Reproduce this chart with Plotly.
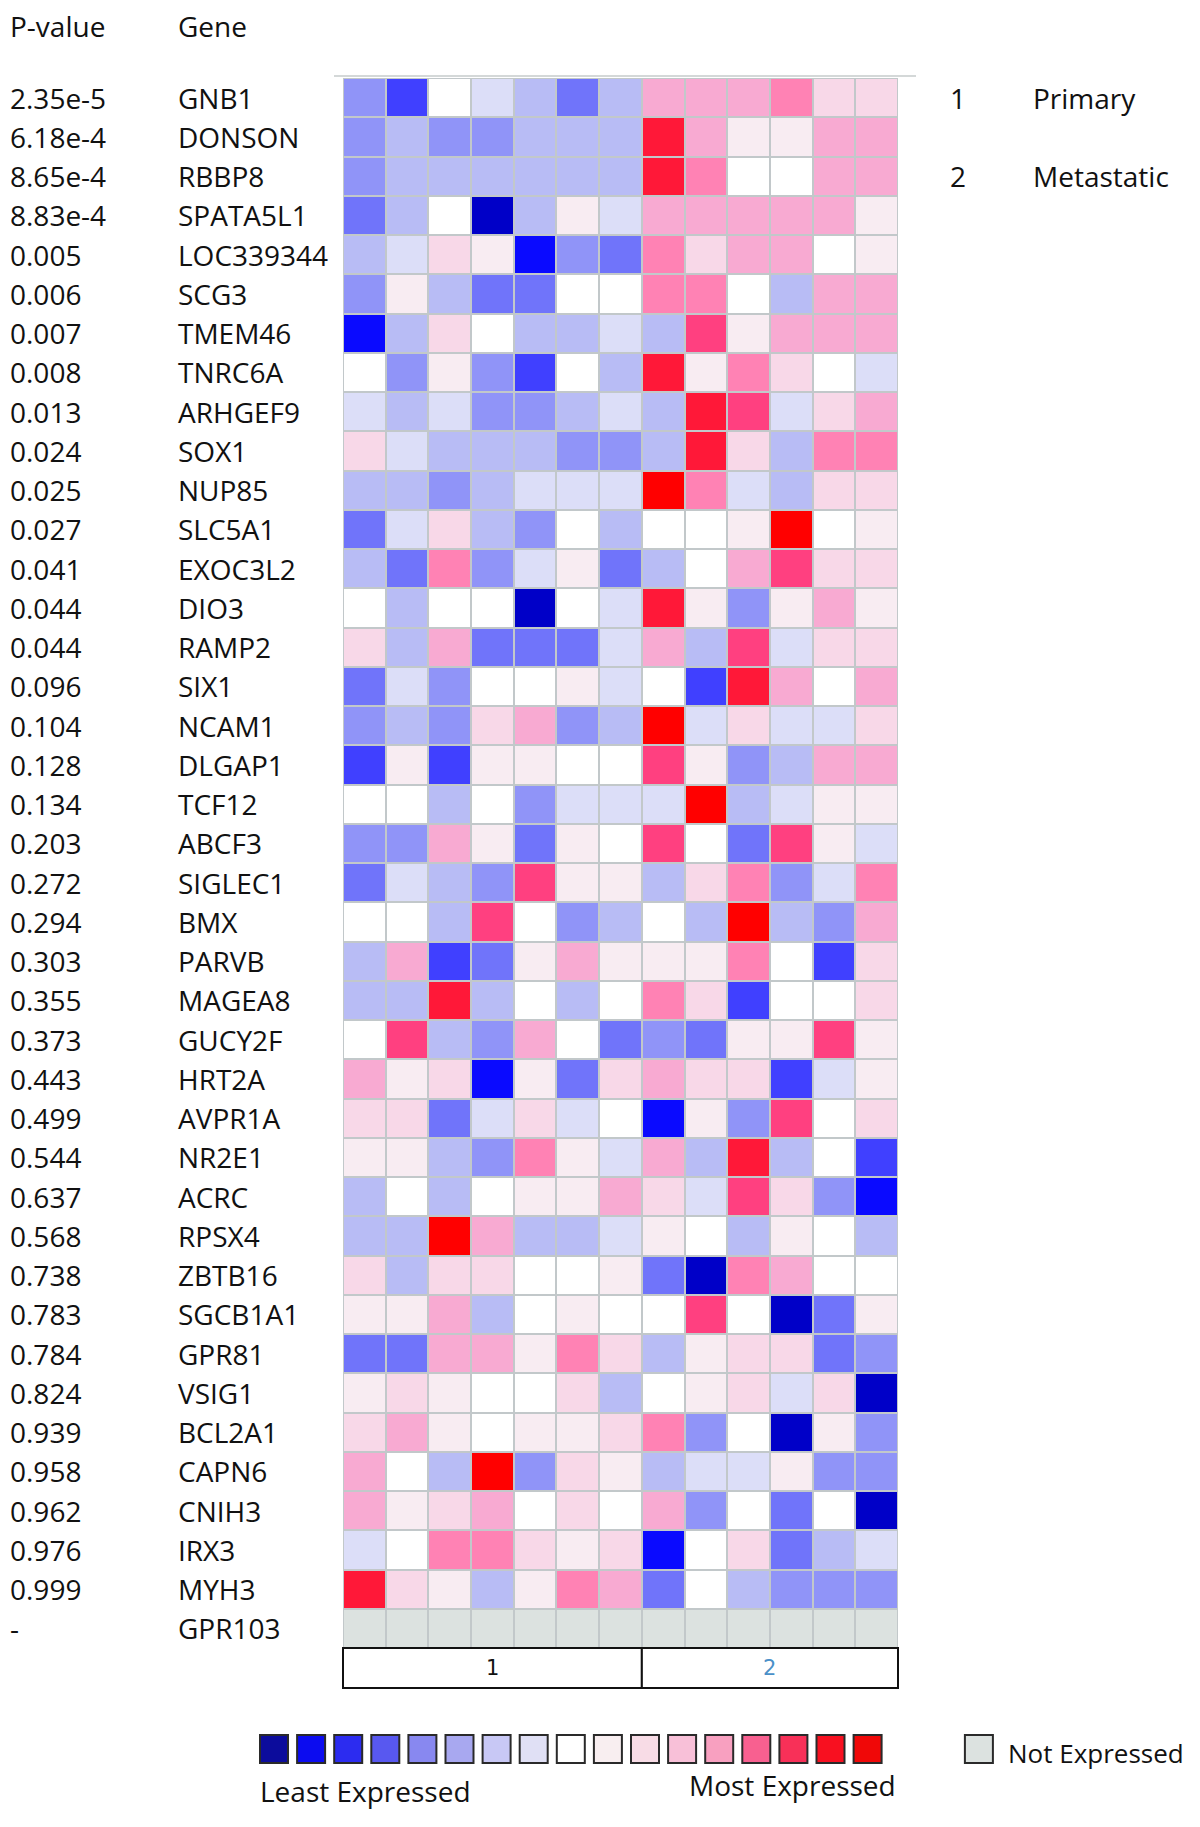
import plotly.graph_objects as go

W, H = 1200, 1827

# ---------------- data ----------------
p_values = ["2.35e-5", "6.18e-4", "8.65e-4", "8.83e-4", "0.005", "0.006", "0.007", "0.008",
            "0.013", "0.024", "0.025", "0.027", "0.041", "0.044", "0.044", "0.096", "0.104",
            "0.128", "0.134", "0.203", "0.272", "0.294", "0.303", "0.355", "0.373", "0.443",
            "0.499", "0.544", "0.637", "0.568", "0.738", "0.783", "0.784", "0.824", "0.939",
            "0.958", "0.962", "0.976", "0.999", "-"]
genes = ["GNB1", "DONSON", "RBBP8", "SPATA5L1", "LOC339344", "SCG3", "TMEM46", "TNRC6A",
         "ARHGEF9", "SOX1", "NUP85", "SLC5A1", "EXOC3L2", "DIO3", "RAMP2", "SIX1", "NCAM1",
         "DLGAP1", "TCF12", "ABCF3", "SIGLEC1", "BMX", "PARVB", "MAGEA8", "GUCY2F", "HRT2A",
         "AVPR1A", "NR2E1", "ACRC", "RPSX4", "ZBTB16", "SGCB1A1", "GPR81", "VSIG1", "BCL2A1",
         "CAPN6", "CNIH3", "IRX3", "MYH3", "GPR103"]
sample_groups = ["1"] * 7 + ["2"] * 6
group_names = {"1": "Primary", "2": "Metastatic"}

# expression level per gene (rows) and sample (columns), -8 (least) .. 8 (most); None = not expressed
levels = [
    [-4, -6, 0, -2, -3, -5, -3, 3, 3, 3, 4, 2, 2],
    [-4, -3, -4, -4, -3, -3, -3, 6, 3, 1, 1, 3, 3],
    [-4, -3, -3, -3, -3, -3, -3, 6, 4, 0, 0, 3, 3],
    [-5, -3, 0, -8, -3, 1, -2, 3, 3, 3, 3, 3, 1],
    [-3, -2, 2, 1, -7, -4, -5, 4, 2, 3, 3, 0, 1],
    [-4, 1, -3, -5, -5, 0, 0, 4, 4, 0, -3, 3, 3],
    [-7, -3, 2, 0, -3, -3, -2, -3, 5, 1, 3, 3, 3],
    [0, -4, 1, -4, -6, 0, -3, 6, 1, 4, 2, 0, -2],
    [-2, -3, -2, -4, -4, -3, -2, -3, 6, 5, -2, 2, 3],
    [2, -2, -3, -3, -3, -4, -4, -3, 6, 2, -3, 4, 4],
    [-3, -3, -4, -3, -2, -2, -2, 7, 4, -2, -3, 2, 2],
    [-5, -2, 2, -3, -4, 0, -3, 0, 0, 1, 7, 0, 1],
    [-3, -5, 4, -4, -2, 1, -5, -3, 0, 3, 5, 2, 2],
    [0, -3, 0, 0, -8, 0, -2, 6, 1, -4, 1, 3, 1],
    [2, -3, 3, -5, -5, -5, -2, 3, -3, 5, -2, 2, 2],
    [-5, -2, -4, 0, 0, 1, -2, 0, -6, 6, 3, 0, 3],
    [-4, -3, -4, 2, 3, -4, -3, 7, -2, 2, -2, -2, 2],
    [-6, 1, -6, 1, 1, 0, 0, 5, 1, -4, -3, 3, 3],
    [0, 0, -3, 0, -4, -2, -2, -2, 7, -3, -2, 1, 1],
    [-4, -4, 3, 1, -5, 1, 0, 5, 0, -5, 5, 1, -2],
    [-5, -2, -3, -4, 5, 1, 1, -3, 2, 4, -4, -2, 4],
    [0, 0, -3, 5, 0, -4, -3, 0, -3, 7, -3, -4, 3],
    [-3, 3, -6, -5, 1, 3, 1, 1, 1, 4, 0, -6, 2],
    [-3, -3, 6, -3, 0, -3, 0, 4, 2, -6, 0, 0, 2],
    [0, 5, -3, -4, 3, 0, -5, -4, -5, 1, 1, 5, 1],
    [3, 1, 2, -7, 1, -5, 2, 3, 2, 2, -6, -2, 1],
    [2, 2, -5, -2, 2, -2, 0, -7, 1, -4, 5, 0, 2],
    [1, 1, -3, -4, 4, 1, -2, 3, -3, 6, -3, 0, -6],
    [-3, 0, -3, 0, 1, 1, 3, 2, -2, 5, 2, -4, -7],
    [-3, -3, 7, 3, -3, -3, -2, 1, 0, -3, 1, 0, -3],
    [2, -3, 2, 2, 0, 0, 1, -5, -8, 4, 3, 0, 0],
    [1, 1, 3, -3, 0, 1, 0, 0, 5, 0, -8, -5, 1],
    [-5, -5, 3, 3, 1, 4, 2, -3, 1, 2, 2, -5, -4],
    [1, 2, 1, 0, 0, 2, -3, 0, 1, 2, -2, 2, -8],
    [2, 3, 1, 0, 1, 1, 2, 4, -4, 0, -8, 1, -4],
    [3, 0, -3, 7, -4, 2, 1, -3, -2, -2, 1, -4, -4],
    [3, 1, 2, 3, 0, 2, 0, 3, -4, 0, -5, 0, -8],
    [-2, 0, 4, 4, 2, 1, 2, -7, 0, 2, -5, -3, -2],
    [6, 2, 1, -3, 1, 4, 3, -5, 0, -3, -4, -4, -4],
    [None] * 13,
]

level_values = list(range(-8, 9))
cell_colors = ["#0000c8", "#0a0aff", "#4040ff", "#7074fa", "#9094f8", "#b8bcf5", "#dcdef8", "#eceef8",
               "#ffffff",
               "#f8ecf2", "#f8d8e8", "#f8aad2", "#ff82b4", "#ff4080", "#ff1838", "#ff0000", "#f00000"]
legend_colors = ["#0c0c9c", "#0c0cf0", "#2c2cf0", "#5858f0", "#8888f0", "#a8a8f0", "#c8c8f5", "#e0e0f5",
                 "#ffffff",
                 "#f8eef0", "#f8dce6", "#f8c0d8", "#f8a0c0", "#f86090", "#f83058", "#f81020", "#f00808"]
not_expressed_color = "#dce2e0"

# ---------------- helpers ----------------
def px(x):
    return x / W

def py(y):
    return 1 - y / H

FONT = "Open Sans"
n_rows, n_cols = len(genes), len(sample_groups)

HM_X0, HM_X1 = 335, 890
HM_Y0, HM_Y1 = 70, 1640
BAR_Y1 = 1680

# discrete colorscale
n_lv = len(level_values)
colorscale = []
for k, c in enumerate(cell_colors):
    colorscale.append([k / n_lv, c])
    colorscale.append([(k + 1) / n_lv, c])

fig = go.Figure()

fig.add_trace(go.Heatmap(
    z=levels, x=list(range(n_cols)), y=list(range(n_rows)),
    colorscale=colorscale, zmin=level_values[0] - 0.5, zmax=level_values[-1] + 0.5,
    showscale=False, xgap=2, ygap=2, hoverongaps=False,
))
ne_z = [[1 if v is None else None for v in row] for row in levels]
fig.add_trace(go.Heatmap(
    z=ne_z, x=list(range(n_cols)), y=list(range(n_rows)),
    colorscale=[[0, not_expressed_color], [1, not_expressed_color]],
    showscale=False, xgap=2, ygap=2, hoverongaps=False,
))

# legend boxes
LEG_X0, LEG_STEP = 266, 37.1
fig.add_trace(go.Scatter(
    x=list(range(n_lv)), y=[0] * n_lv, mode="markers", xaxis="x2", yaxis="y2",
    marker=dict(symbol="square", size=28, color=legend_colors,
                line=dict(color="#2a2a2a", width=2)),
    showlegend=False, hoverinfo="skip",
))
NOT_EXPR_POS = 19
fig.add_trace(go.Scatter(
    x=[NOT_EXPR_POS], y=[0], mode="markers", xaxis="x2", yaxis="y2",
    marker=dict(symbol="square", size=28, color=not_expressed_color,
                line=dict(color="#2a2a2a", width=2)),
    showlegend=False, hoverinfo="skip",
))

annotations = []
txt = dict(family=FONT, size=28, color="#111111")
annotations.append(dict(text="P-value", x=px(0), y=py(18), xref="paper", yref="paper",
                        xanchor="left", yanchor="middle", showarrow=False, font=txt))
annotations.append(dict(text="Gene", x=px(168), y=py(18), xref="paper", yref="paper",
                        xanchor="left", yanchor="middle", showarrow=False, font=txt))
for i, (p, g) in enumerate(zip(p_values, genes)):
    annotations.append(dict(text=p, x=px(0), y=i, xref="paper", yref="y",
                            xanchor="left", yanchor="middle", showarrow=False, font=txt))
    annotations.append(dict(text=g, x=px(168), y=i, xref="paper", yref="y",
                            xanchor="left", yanchor="middle", showarrow=False, font=txt))

# group key on the right
for j, (key, name) in enumerate(group_names.items()):
    annotations.append(dict(text=key, x=px(940), y=2 * j, xref="paper", yref="y",
                            xanchor="left", yanchor="middle", showarrow=False, font=txt))
    annotations.append(dict(text=name, x=px(1023), y=2 * j, xref="paper", yref="y",
                            xanchor="left", yanchor="middle", showarrow=False, font=txt))

# group bar below heatmap
shapes = []
shapes.append(dict(type="rect", xref="paper", yref="paper", x0=px(HM_X0), x1=px(HM_X1),
                   y0=py(HM_Y1), y1=py(HM_Y0), fillcolor="#c2c8ca", line=dict(width=0),
                   layer="below"))
cell_w = (HM_X1 - HM_X0) / n_cols
group_label_colors = {"1": "#111111", "2": "#4a90c8"}
start = 0
for j in range(1, n_cols + 1):
    if j == n_cols or sample_groups[j] != sample_groups[start]:
        key = sample_groups[start]
        x0 = HM_X0 + start * cell_w
        x1 = HM_X0 + j * cell_w
        shapes.append(dict(type="rect", xref="paper", yref="paper", x0=px(x0), x1=px(x1),
                           y0=py(BAR_Y1), y1=py(HM_Y1), line=dict(color="#111111", width=2),
                           fillcolor="white", layer="below"))
        annotations.append(dict(text=key, x=px((x0 + x1) / 2), y=py((HM_Y1 + BAR_Y1) / 2),
                                xref="paper", yref="paper", showarrow=False,
                                xanchor="center", yanchor="middle",
                                font=dict(family="DejaVu Sans", size=21,
                                          color=group_label_colors[key])))
        start = j

# thin grey line above heatmap
shapes.append(dict(type="line", xref="paper", yref="paper", x0=px(326), x1=px(908),
                   y0=py(68), y1=py(68), line=dict(color="#d4d8d8", width=2)))

annotations.append(dict(text="Least Expressed", x=px(250), y=py(1783), xref="paper", yref="paper",
                        xanchor="left", yanchor="middle", showarrow=False, font=txt))
annotations.append(dict(text="Most Expressed", x=px(890), y=py(1777), xref="paper", yref="paper",
                        xanchor="right", yanchor="middle", showarrow=False, font=txt))
annotations.append(dict(text="Not Expressed", x=px(998), y=py(1745), xref="paper", yref="paper",
                        xanchor="left", yanchor="middle", showarrow=False,
                        font=dict(family=FONT, size=26, color="#111111")))

fig.update_layout(
    width=W, height=H, margin=dict(l=0, r=0, t=0, b=0),
    paper_bgcolor="white", plot_bgcolor="rgba(0,0,0,0)",
    xaxis=dict(domain=[px(HM_X0), px(HM_X1)], range=[-0.5, n_cols - 0.5], visible=False, fixedrange=True),
    yaxis=dict(domain=[py(HM_Y1), py(HM_Y0)], range=[n_rows - 0.5, -0.5], visible=False, fixedrange=True),
    xaxis2=dict(domain=[0, 1], range=[-LEG_X0 / LEG_STEP, (W - LEG_X0) / LEG_STEP], visible=False,
                anchor="y2", fixedrange=True),
    yaxis2=dict(domain=[py(1761), py(1721)], range=[-1, 1], visible=False, anchor="x2",
                fixedrange=True),
    annotations=annotations, shapes=shapes, showlegend=False,
)

fig.write_html("out.html")
